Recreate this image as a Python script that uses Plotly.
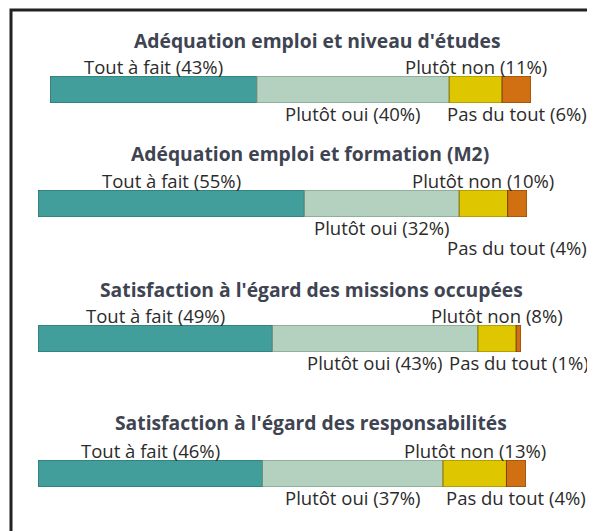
import plotly.graph_objects as go

# ---- data ----
titles = [
    "Adéquation emploi et niveau d'études",
    "Adéquation emploi et formation (M2)",
    "Satisfaction à l'égard des missions occupées",
    "Satisfaction à l'égard des responsabilités",
]
categories = ["Tout à fait", "Plutôt oui", "Plutôt non", "Pas du tout"]
tout_a_fait = [43, 55, 49, 46]
plutot_oui = [40, 32, 43, 37]
plutot_non = [11, 10, 8, 13]
pas_du_tout = [6, 4, 1, 4]

# ---- style / layout ----
OFF = 8  # page body margin
W, H = 595 - OFF, 531 - OFF
fills = ["#419e9a", "#b3d1be", "#dec600", "#d16f13"]
edges = ["#2a6966", "#6f8f7b", "#8a7b00", "#7e400a"]
label_side = ["above", "below", "above", "below"]
# pixel layout (screen coords) of each panel: bar left, right, top, bottom, title centre x, title centre y
panels = [
    (50, 531, 76, 103, 317, 40),
    (38, 527, 190, 217, 310, 153),
    (38, 521, 325, 352, 311, 289),
    (38, 526, 460, 487, 311, 422),
]
extra_row = [0, 1, 0, 0]  # second label row for last category


def fx(px):
    return (px - OFF) / W


def fy(py):
    return 1 - (py - OFF) / H


font_lbl = "Open Sans"
fig = go.Figure()
series = [tout_a_fait, plutot_oui, plutot_non, pas_du_tout]
annotations = []
layout_axes = {}

for p in range(4):
    xl, xr, yt, yb, tx, ty = panels[p]
    vals = [s[p] for s in series]
    total = sum(vals)
    ax = "" if p == 0 else str(p + 1)
    for c in range(4):
        fig.add_trace(go.Bar(
            x=[vals[c]], y=[0], base=[sum(vals[:c])], orientation="h", width=1,
            marker=dict(color=fills[c], line=dict(color=edges[c], width=1)),
            xaxis="x" + ax, yaxis="y" + ax, showlegend=False, hoverinfo="skip",
        ))
        centre = sum(vals[:c]) + vals[c] / 2
        txt = f"{categories[c]} ({vals[c]}%)"
        if label_side[c] == "above":
            annotations.append(dict(x=centre, y=0.5, xref="x" + ax, yref="y" + ax,
                                    text=txt, showarrow=False, yanchor="bottom",
                                    yshift=-5, font=dict(family=font_lbl, size=18.5, color="#2b2b2b")))
        else:
            shift = 4 - (20 * extra_row[p] if c == 3 else 0)
            annotations.append(dict(x=centre, y=-0.5, xref="x" + ax, yref="y" + ax,
                                    text=txt, showarrow=False, yanchor="top",
                                    yshift=shift, font=dict(family=font_lbl, size=18.5, color="#2b2b2b")))
    layout_axes["xaxis" + ax] = dict(domain=[fx(xl), fx(xr)], range=[0, total], visible=False,
                                     fixedrange=True)
    layout_axes["yaxis" + ax] = dict(domain=[fy(yb), fy(yt)], range=[-0.5, 0.5],
                                     visible=False, fixedrange=True)
    annotations.append(dict(x=fx(tx), y=fy(ty), xref="paper", yref="paper", text=f"<b>{titles[p]}</b>",
                            showarrow=False, xanchor="center", yanchor="middle",
                            font=dict(family="Open Sans", size=19.3, color="#3e4451")))

fig.update_layout(
    width=W, height=H, margin=dict(l=0, r=0, t=0, b=0),
    paper_bgcolor="white", plot_bgcolor="rgba(0,0,0,0)",
    barmode="overlay", annotations=annotations,
    shapes=[dict(type="rect", xref="paper", yref="paper", x0=fx(11), x1=1.2, y0=-0.2, y1=fy(10),
                 line=dict(color="#222222", width=3), layer="below")],
    **layout_axes,
)
fig.write_html("out.html")
